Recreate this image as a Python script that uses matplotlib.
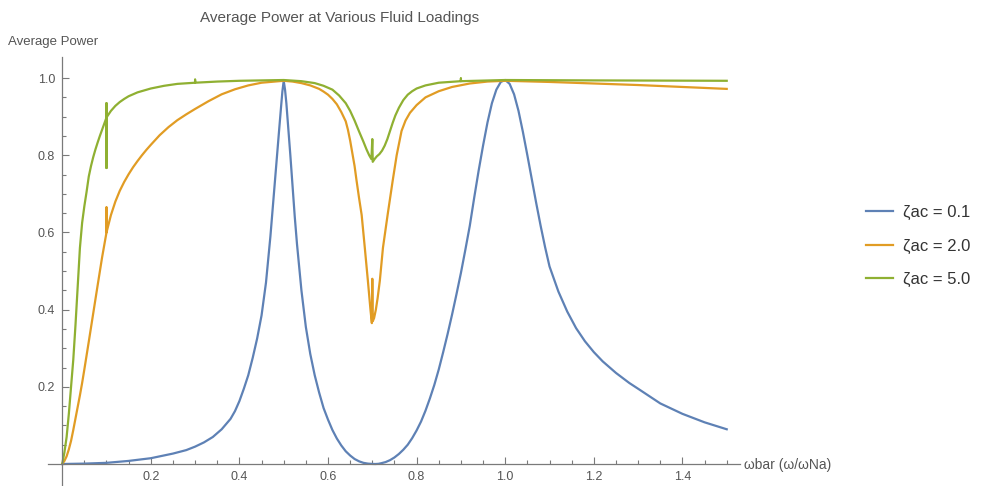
import numpy as np
import matplotlib.pyplot as plt
from matplotlib.ticker import FixedLocator

plt.rcParams['font.family'] = ['Liberation Sans', 'DejaVu Sans']

# average power curves for three fluid loadings (zeta_ac)
x_01 = [0.0, 0.05, 0.1, 0.15, 0.2, 0.25, 0.28, 0.3, 0.32, 0.34, 0.36, 0.38,
        0.39, 0.40, 0.41, 0.42, 0.43, 0.44, 0.45, 0.46, 0.47, 0.48, 0.485,
        0.49, 0.494, 0.497, 0.5, 0.503, 0.506, 0.51, 0.515, 0.52, 0.525, 0.53,
        0.54, 0.55, 0.56, 0.57, 0.58, 0.59, 0.6, 0.61, 0.62, 0.63, 0.64,
        0.65, 0.66, 0.67, 0.68, 0.69, 0.7, 0.707, 0.714, 0.72, 0.73, 0.74,
        0.75, 0.76, 0.77, 0.78, 0.79, 0.8, 0.81, 0.82, 0.83, 0.84, 0.85,
        0.86, 0.87, 0.88, 0.89, 0.9, 0.91, 0.92, 0.93, 0.94, 0.95, 0.96,
        0.97, 0.98, 0.99, 1.0, 1.01, 1.02, 1.03, 1.04, 1.05, 1.06, 1.07,
        1.08, 1.09, 1.1, 1.12, 1.14, 1.16, 1.18, 1.2, 1.22, 1.25, 1.28, 1.3,
        1.35, 1.4, 1.45, 1.5]
p_01 = [0.0, 0.001, 0.003, 0.008, 0.015, 0.027, 0.036, 0.045, 0.056, 0.07,
        0.09, 0.117, 0.137, 0.163, 0.195, 0.23, 0.275, 0.325, 0.385, 0.47,
        0.59, 0.73, 0.8, 0.87, 0.925, 0.965, 0.993, 0.97, 0.935, 0.875, 0.8,
        0.72, 0.64, 0.57, 0.45, 0.355, 0.285, 0.23, 0.185, 0.145, 0.115,
        0.088, 0.066, 0.048, 0.033, 0.022, 0.013, 0.007, 0.003, 0.001,
        0.0002, 0.0, 0.0005, 0.002, 0.005, 0.01, 0.017, 0.026, 0.037, 0.05,
        0.067, 0.087, 0.11, 0.138, 0.17, 0.205, 0.245, 0.29, 0.337, 0.387,
        0.44, 0.495, 0.555, 0.617, 0.69, 0.76, 0.825, 0.885, 0.935, 0.97,
        0.99, 0.995, 0.985, 0.958, 0.915, 0.86, 0.8, 0.738, 0.676, 0.617,
        0.562, 0.512, 0.447, 0.395, 0.352, 0.318, 0.29, 0.266, 0.236, 0.21,
        0.195, 0.157, 0.13, 0.108, 0.09]

x_20 = [0.0, 0.005, 0.01, 0.015, 0.02, 0.025, 0.03, 0.035, 0.04, 0.045,
        0.05, 0.06, 0.07, 0.08, 0.09, 0.1, 0.1, 0.1, 0.11, 0.12, 0.13, 0.14,
        0.15, 0.16, 0.17, 0.18, 0.19, 0.2, 0.22, 0.24, 0.26, 0.28, 0.3, 0.33,
        0.36, 0.39, 0.42, 0.45, 0.48, 0.5, 0.52, 0.54, 0.56, 0.58, 0.59, 0.6,
        0.61, 0.62, 0.63, 0.64, 0.645, 0.65, 0.655, 0.66, 0.664, 0.67, 0.676,
        0.683, 0.69, 0.696, 0.699, 0.7, 0.701, 0.704, 0.708, 0.712, 0.717,
        0.724, 0.735, 0.746, 0.755, 0.766, 0.775, 0.785, 0.8, 0.82, 0.85,
        0.88, 0.92, 0.96, 1.0, 1.1, 1.2, 1.3, 1.4, 1.5]
p_20 = [0.0, 0.008, 0.02, 0.038, 0.06, 0.088, 0.118, 0.148, 0.178, 0.21,
        0.245, 0.317, 0.39, 0.463, 0.535, 0.60, 0.665, 0.60, 0.645, 0.68,
        0.708, 0.731, 0.751, 0.769, 0.785, 0.80, 0.814, 0.827, 0.852, 0.873,
        0.891, 0.906, 0.92, 0.94, 0.958, 0.971, 0.981, 0.988, 0.991, 0.993,
        0.991, 0.987, 0.981, 0.972, 0.965, 0.957, 0.946, 0.932, 0.912, 0.888,
        0.866, 0.838, 0.805, 0.772, 0.738, 0.69, 0.645, 0.561, 0.475, 0.398,
        0.365, 0.48, 0.37, 0.378, 0.40, 0.43, 0.475, 0.56, 0.649, 0.734, 0.80,
        0.863, 0.89, 0.91, 0.93, 0.95, 0.966, 0.977, 0.986, 0.991, 0.993,
        0.99, 0.986, 0.982, 0.977, 0.972]

x_50 = [0.0, 0.005, 0.01, 0.015, 0.02, 0.025, 0.03, 0.035, 0.04, 0.045,
        0.05, 0.055, 0.06, 0.065, 0.07, 0.075, 0.08, 0.085, 0.09, 0.095, 0.1,
        0.1, 0.1, 0.1, 0.11, 0.12, 0.13, 0.14, 0.15, 0.17, 0.2, 0.23, 0.26,
        0.3, 0.3, 0.3, 0.35, 0.4, 0.5, 0.54, 0.57, 0.59, 0.61, 0.625, 0.64,
        0.65, 0.66, 0.67, 0.68, 0.687, 0.693, 0.698, 0.7, 0.701, 0.705, 0.71,
        0.716, 0.722, 0.728, 0.734, 0.74, 0.746, 0.752, 0.76, 0.77, 0.78,
        0.79, 0.8, 0.82, 0.85, 0.9, 0.9, 0.9, 1.0, 1.2, 1.5]
p_50 = [0.0, 0.03, 0.07, 0.13, 0.20, 0.27, 0.36, 0.46, 0.56, 0.625, 0.668,
        0.705, 0.745, 0.772, 0.795, 0.815, 0.833, 0.85, 0.866, 0.882, 0.898,
        0.935, 0.767, 0.898, 0.915, 0.928, 0.938, 0.946, 0.953, 0.963, 0.973,
        0.98, 0.985, 0.988, 0.996, 0.988, 0.991, 0.993, 0.995, 0.992, 0.987,
        0.98, 0.97, 0.955, 0.935, 0.915, 0.89, 0.862, 0.835, 0.815, 0.80,
        0.79, 0.842, 0.783, 0.79, 0.797, 0.803, 0.812, 0.825, 0.842, 0.863,
        0.884, 0.903, 0.923, 0.943, 0.957, 0.966, 0.973, 0.981, 0.988, 0.992,
        0.999, 0.992, 0.995, 0.994, 0.993]

labels = ['ζac = 0.1', 'ζac = 2.0', 'ζac = 5.0']
colors = ['#5e81b5', '#e19c24', '#8fb032']

fig = plt.figure(figsize=(9.88, 4.86), dpi=100)
ax = fig.add_axes([0.0486, 0.0, 0.7004, 0.883])

for xs, ys, lab, c in zip([x_01, x_20, x_50], [p_01, p_20, p_50], labels, colors):
    ax.plot(xs, ys, color=c, lw=1.6, label=lab, solid_joinstyle='round')

ax.set_xlim(-0.032, 1.53)
ax.set_ylim(-0.057, 1.055)

axis_gray = '#7a7a7a'
for side in ['top', 'right']:
    ax.spines[side].set_visible(False)
for side in ['left', 'bottom']:
    ax.spines[side].set_position(('data', 0))
    ax.spines[side].set_color(axis_gray)
    ax.spines[side].set_linewidth(0.9)

xt = [0.2, 0.4, 0.6, 0.8, 1.0, 1.2, 1.4]
yt = [0.2, 0.4, 0.6, 0.8, 1.0]
ax.xaxis.set_major_locator(FixedLocator(xt))
ax.yaxis.set_major_locator(FixedLocator(yt))
ax.xaxis.set_minor_locator(FixedLocator(np.arange(0.05, 1.51, 0.05)))
ax.yaxis.set_minor_locator(FixedLocator(np.arange(0.05, 1.01, 0.05)))
ax.set_xticklabels(['%.1f' % v for v in xt])
ax.set_yticklabels(['%.1f' % v for v in yt])
ax.tick_params(which='both', direction='in', color=axis_gray, width=0.8,
               labelcolor='#555555', labelsize=9)
ax.tick_params(which='major', length=5, pad=5)
ax.tick_params(which='minor', length=3)
ax.patch.set_visible(False)

fig.text(0.344, 1 - 18 / 486, 'Average Power at Various Fluid Loadings',
         ha='center', va='center', fontsize=11, color='#555555')
fig.text(0.008, 1 - 42 / 486, 'Average Power', ha='left', va='center',
         fontsize=9.5, color='#555555')
fig.text(744 / 988, 1 - 465 / 486, 'ωbar (ω/ωNa)', ha='left', va='center',
         fontsize=10, color='#555555')

leg = fig.legend(loc='center left', bbox_to_anchor=(866 / 988, 1 - 246 / 486),
                 frameon=False, fontsize=12, handlelength=1.6,
                 handletextpad=0.6, labelspacing=1.1, borderaxespad=0,
                 borderpad=0)
for t in leg.get_texts():
    t.set_color('#333333')

fig.savefig('out.png', dpi=100)
